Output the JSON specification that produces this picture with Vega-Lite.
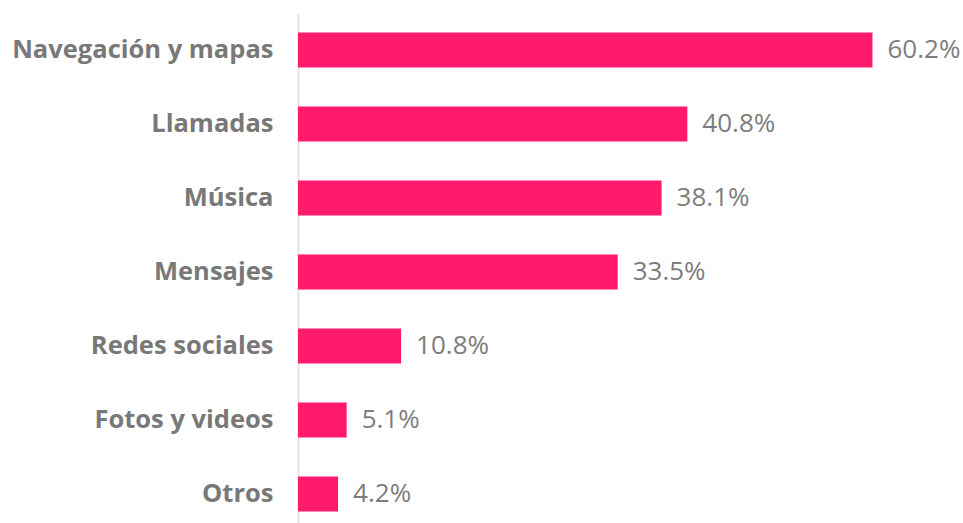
{
  "$schema": "https://vega.github.io/schema/vega-lite/v6.json",
  "autosize": "none",
  "padding": {"left": 298, "top": 14, "right": 0, "bottom": 0},
  "width": 668,
  "height": 516,
  "background": "white",
  "config": {"view": {"stroke": null}},
  "data": {"values": [
    {"categoria": "Navegación y mapas", "valor": 60.2, "etiqueta": "60.2%"},
    {"categoria": "Llamadas", "valor": 40.8, "etiqueta": "40.8%"},
    {"categoria": "Música", "valor": 38.1, "etiqueta": "38.1%"},
    {"categoria": "Mensajes", "valor": 33.5, "etiqueta": "33.5%"},
    {"categoria": "Redes sociales", "valor": 10.8, "etiqueta": "10.8%"},
    {"categoria": "Fotos y videos", "valor": 5.1, "etiqueta": "5.1%"},
    {"categoria": "Otros", "valor": 4.2, "etiqueta": "4.2%"}
  ]},
  "encoding": {
    "y": {
      "field": "categoria", "type": "nominal", "sort": null, "title": null,
      "scale": {"paddingInner": 0.527, "paddingOuter": 0.25},
      "axis": {
        "ticks": false, "labelPadding": 25, "labelFont": "Open Sans", "labelFontWeight": "bold",
        "labelFontSize": 25.5, "labelColor": "#787878", "domainColor": "#e3e3e3", "domainWidth": 2,
        "labelLimit": 400
      }
    },
    "x": {
      "field": "valor", "type": "quantitative", "title": null,
      "scale": {"domain": [0, 70]},
      "axis": null
    }
  },
  "layer": [
    {"mark": {"type": "bar", "color": "#FF1A6E"}},
    {
      "mark": {"type": "text", "align": "left", "baseline": "middle", "dx": 15, "font": "Open Sans", "fontSize": 26, "color": "#7d7d7d"},
      "encoding": {"text": {"field": "etiqueta"}}
    }
  ]
}
